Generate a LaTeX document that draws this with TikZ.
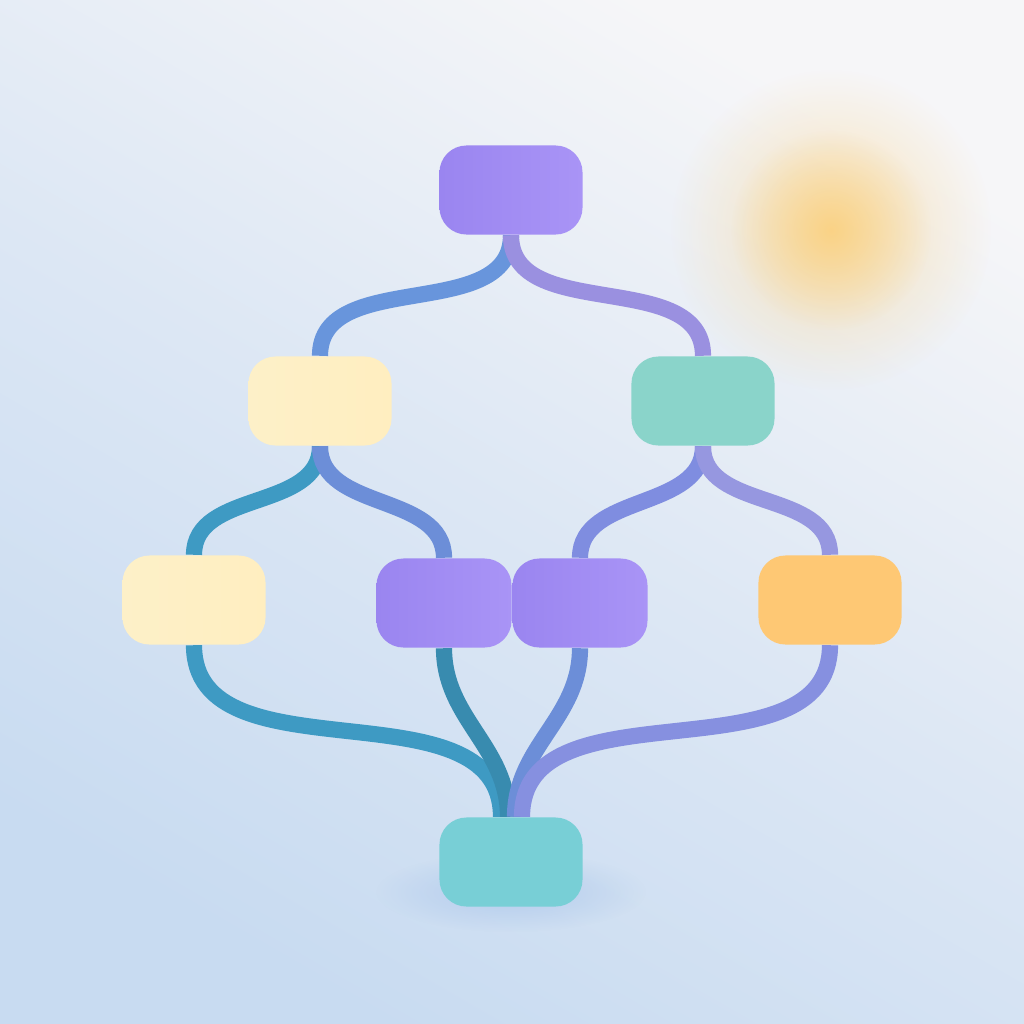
\documentclass[tikz,border=0pt]{standalone}
\usetikzlibrary{fadings}

\definecolor{bgtop}{HTML}{F6F6F8}
\definecolor{bgbot}{HTML}{C8DBF1}
\definecolor{glowc}{HTML}{FCCD72}
\definecolor{shadowc}{HTML}{A6C3EA}
\definecolor{lilacA}{HTML}{9A85F0}
\definecolor{lilacB}{HTML}{A994F6}
\definecolor{creamA}{HTML}{FDF0C8}
\definecolor{creamB}{HTML}{FFEEC0}
\definecolor{mint}{HTML}{8AD4CA}
\definecolor{amber}{HTML}{FEC874}
\definecolor{aqua}{HTML}{78CFD6}
\definecolor{blueL}{HTML}{6895DC}
\definecolor{violetL}{HTML}{9A90E0}
\definecolor{tealL}{HTML}{3E9AC3}
\definecolor{slateL}{HTML}{6C8ED8}
\definecolor{indigoL}{HTML}{7F8DE0}
\definecolor{mauveL}{HTML}{9697E0}

\tikzfading[name=softglow, inner color=transparent!30, outer color=transparent!100]

\begin{document}
\begin{tikzpicture}[x=0.01cm,y=-0.01cm,
        box/.style={rectangle,rounded corners=0.27cm,minimum width=1.43cm,
            minimum height=0.89cm,inner sep=0pt},
        lilac box/.style={box,left color=lilacA,right color=lilacB},
        cream box/.style={box,left color=creamA,right color=creamB},
        mint box/.style={box,fill=mint},
        amber box/.style={box,fill=amber},
        aqua box/.style={box,fill=aqua},
        link/.style={line width=4.6pt,line cap=butt}]

    % backdrop
    \useasboundingbox (0,0) rectangle (1024,1024);
    \shade[top color=bgtop,bottom color=bgbot,middle color=bgtop!45!bgbot,shading angle=-30]
        (0,0) rectangle (1024,1024);
    \fill[glowc,path fading=softglow,opacity=0.7] (831,230) circle (1.6cm);
    \fill[glowc,path fading=softglow] (831,230) circle (1.0cm);
    \fill[shadowc,path fading=softglow] (511,892) ellipse (1.35cm and 0.4cm);

    \node[lilac box] (top) at (511,190) {};
    \node[cream box] (lm)  at (320,401) {};
    \node[mint box]  (rm)  at (703,401) {};
    \node[cream box] (a)   at (194,600) {};
    \node[lilac box,minimum width=1.35cm] (b) at (444,603) {};
    \node[lilac box,minimum width=1.35cm] (c) at (580,603) {};
    \node[amber box] (d)   at (830,600) {};
    \node[aqua box]  (bot) at (511,862) {};

    \path[link,out=-90,in=90]
    (top.south) edge[blueL]   (lm.north)
                edge[violetL] (rm.north)
    (lm.south)  edge[tealL]   (a.north)
                edge[slateL]  (b.north)
    (rm.south)  edge[indigoL] (c.north)
                edge[mauveL]  (d.north);

    \path[link,out=-90,in=90]
    (a.south) edge[tealL]                    ([xshift=-0.10cm]bot.north)
    (b.south) edge[tealL!90!black]           ([xshift=-0.03cm]bot.north)
    (c.south) edge[slateL]                   ([xshift=0.04cm]bot.north)
    (d.south) edge[indigoL!70!mauveL]        ([xshift=0.11cm]bot.north);
\end{tikzpicture}
\end{document}
